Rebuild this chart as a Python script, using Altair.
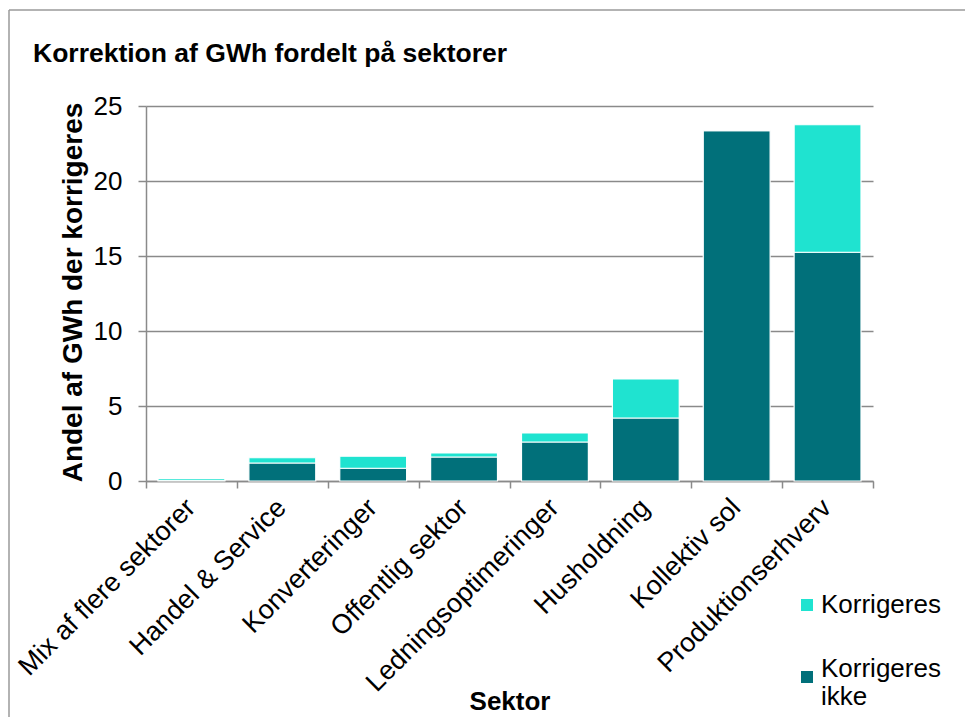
import altair as alt
import pandas as pd

# ---- data ----
sectors = [
    "Mix af flere sektorer",
    "Handel & Service",
    "Konverteringer",
    "Offentlig sektor",
    "Ledningsoptimeringer",
    "Husholdning",
    "Kollektiv sol",
    "Produktionserhverv",
]
korrigeres_ikke = [0.05, 1.2, 0.85, 1.6, 2.6, 4.2, 23.35, 15.25]
korrigeres = [0.12, 0.35, 0.8, 0.27, 0.6, 2.6, 0.0, 8.5]
series_names = ["Korrigeres", "Korrigeres ikke"]
series_colors = ["#1FE3D0", "#01707A"]
y_ticks = [0, 5, 10, 15, 20, 25]

rows = []
for s, a, b in zip(sectors, korrigeres_ikke, korrigeres):
    rows.append({"sektor": s, "serie": "Korrigeres ikke", "value": a, "orden": 0})
    rows.append({"sektor": s, "serie": "Korrigeres", "value": b, "orden": 1})
df = pd.DataFrame(rows)

FONT = "Liberation Sans, Arial, Helvetica, sans-serif"
GRAY = "#8a8a8a"

bars = alt.Chart(df).mark_bar(
    stroke="white", strokeWidth=1.2, width=alt.RelativeBandSize(0.736)
).encode(
    x=alt.X(
        "sektor:N",
        sort=sectors,
        scale=alt.Scale(paddingInner=0, paddingOuter=0),
        axis=alt.Axis(
            title="Sektor",
            labelAngle=-45,
            labelAlign="right",
            labelBaseline="top",
            labelPadding=6,
            labelOffset=-10,
            labelFontSize=27,
            labelLimit=400,
            tickBand="extent",
            tickSize=7,
            titleX=363.5,
            titleY=228,
            titleAlign="center",
            titleBaseline="alphabetic",
        ),
    ),
    y=alt.Y(
        "value:Q",
        stack="zero",
        scale=alt.Scale(domain=[0, 25], nice=False),
        axis=alt.Axis(
            values=y_ticks,
            title="Andel af GWh der korrigeres",
            labelFontSize=26,
            labelPadding=16,
            tickSize=8,
            titleFontSize=28,
            titleAngle=270,
            titleX=-73,
            titleY=186,
            titleAlign="center",
            titleBaseline="middle",
        ),
    ),
    color=alt.Color(
        "serie:N",
        scale=alt.Scale(domain=series_names, range=series_colors),
        legend=alt.Legend(
            title=None,
            orient="none",
            legendX=648,
            legendY=486,
            symbolType="square",
            symbolSize=144,
            symbolStrokeWidth=0,
            labelFontSize=26,
            labelOffset=1,
            labelLimit=400,
            rowPadding=38,
            labelBaseline={"expr": "datum.index === 1 ? 'alphabetic' : 'middle'"},
            labelExpr="datum.label == 'Korrigeres ikke' ? ['Korrigeres', 'ikke'] : datum.label",
        ),
    ),
    order=alt.Order("orden:Q"),
)

frame_df = pd.DataFrame({"k": [0]})
frame_top = alt.Chart(frame_df).mark_rule(color="#9a9a9a", strokeWidth=1.5).encode(
    x=alt.value(-137), x2=alt.value(819), y=alt.value(-96)
)
frame_left = alt.Chart(frame_df).mark_rule(color="#9a9a9a", strokeWidth=1.5).encode(
    x=alt.value(-137), y=alt.value(-96), y2=alt.value(611)
)

chart = (
    alt.layer(bars, frame_top, frame_left)
    .properties(
        width=727,
        height=375,
        autosize="none",
        padding={"left": 138, "top": 98, "right": 92, "bottom": 236},
        title=alt.TitleParams(
            "Korrektion af GWh fordelt på sektorer",
            anchor="start",
            frame="group",
            dx=-113,
            dy=79,
            offset=0,
            baseline="alphabetic",
            font=FONT,
            fontSize=26.5,
            fontWeight="bold",
            color="black",
        ),
    )
    .configure_view(stroke=None)
    .configure_axis(
        labelFont=FONT,
        titleFont=FONT,
        labelColor="black",
        titleColor="black",
        titleFontSize=26,
        titleFontWeight="bold",
        domainColor=GRAY,
        domainWidth=1.5,
        tickColor=GRAY,
        tickWidth=1.5,
        gridColor=GRAY,
        gridWidth=1.5,
    )
    .configure_axisX(grid=False)
    .configure_axisY(grid=True)
    .configure_legend(labelFont=FONT, labelColor="black", padding=0)
)

chart.save("out.html", embed_options={"renderer": "svg", "actions": False})
